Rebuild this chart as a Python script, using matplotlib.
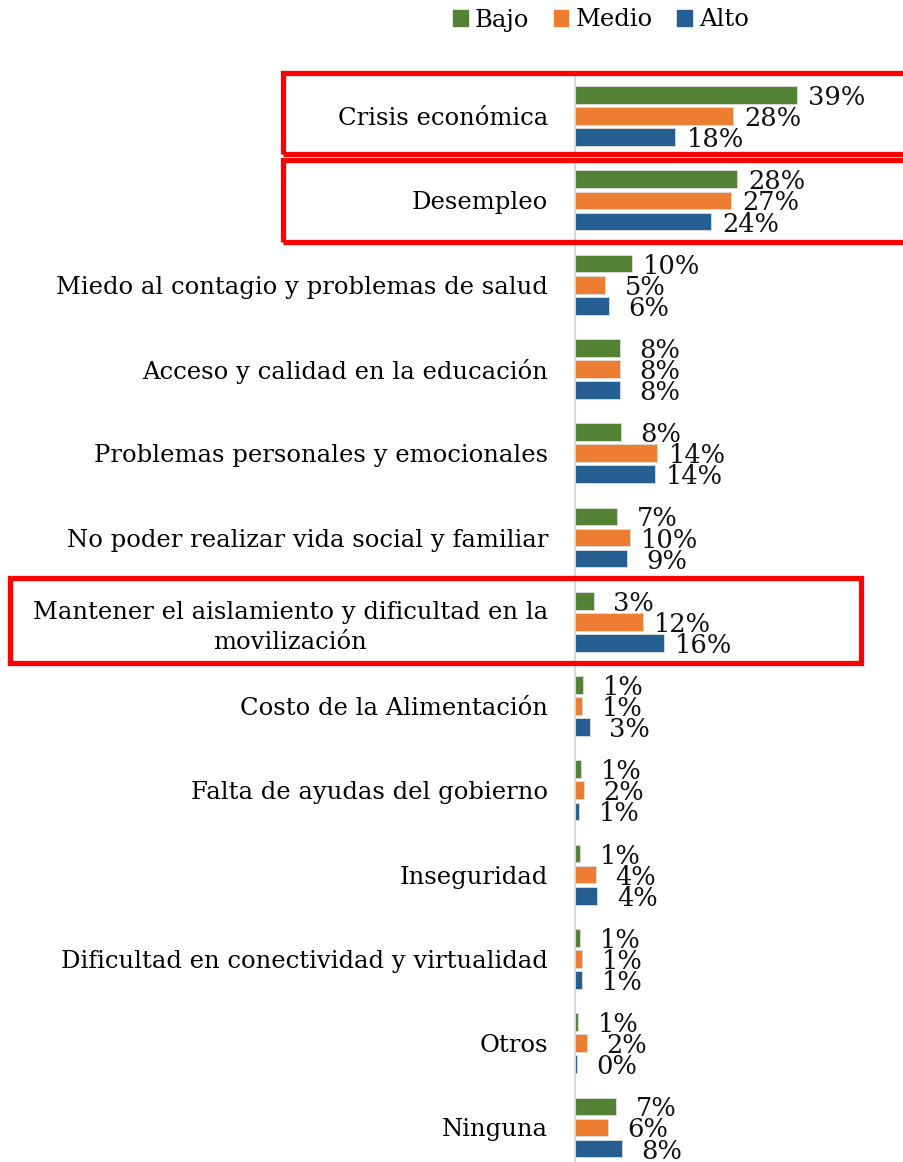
import matplotlib.pyplot as plt
from matplotlib.patches import Patch, Rectangle
import numpy as np

categorias = [
    'Crisis económica',
    'Desempleo',
    'Miedo al contagio y problemas de salud',
    'Acceso y calidad en la educación',
    'Problemas personales y emocionales',
    'No poder realizar vida social y familiar',
    'Mantener el aislamiento y dificultad en la\nmovilización',
    'Costo de la Alimentación',
    'Falta de ayudas del gobierno',
    'Inseguridad',
    'Dificultad en conectividad y virtualidad',
    'Otros',
    'Ninguna',
]
bajo = [38.9, 28.4, 10.0, 7.9, 8.0, 7.4, 3.3, 1.4, 1.1, 0.9, 0.9, 0.6, 7.2]
medio = [27.7, 27.4, 5.3, 7.9, 14.4, 9.6, 11.9, 1.3, 1.6, 3.7, 1.3, 2.1, 5.8]
alto = [17.6, 23.9, 6.0, 7.9, 14.0, 9.1, 15.6, 2.6, 0.7, 3.9, 1.3, 0.4, 8.2]
series = ['Bajo', 'Medio', 'Alto']
colores = ['#548235', '#ED7D31', '#255E91']

plt.rcParams['font.family'] = ['DejaVu Serif']

fig = plt.figure(figsize=(9.04, 11.62), dpi=100)
W, H = 904, 1162
x0, px_por_pct = 575, 5.7
ax = fig.add_axes([x0 / W, 0, (W - x0) / W, (H - 74) / H])

y = np.arange(len(categorias))
for i, (vals, col) in enumerate(zip([bajo, medio, alto], colores)):
    pos = y + (i - 1) * 0.25
    ax.barh(pos, vals, height=0.21, color=col, edgecolor='#dddddd', linewidth=0.6)
    # etiquetas de datos
    for p, v in zip(pos, vals):
        ax.text(v + 7, p + 0.03, f'{v:.0f}%', ha='center', va='center',
                fontsize=18.5, color='#111111')

ax.set_xlim(0, (W - x0) / px_por_pct)
ax.set_ylim(12.41, -0.5)
ax.set_yticks(y)
ax.set_yticklabels(categorias, fontsize=17.5, multialignment='center', linespacing=1.35)
ax.tick_params(axis='y', length=0, pad=19.5)
ax.set_xticks([])
for s in ['top', 'right', 'bottom']:
    ax.spines[s].set_visible(False)
ax.spines['left'].set_color('#d9d9d9')
ax.spines['left'].set_linewidth(1.5)

# recuadros rojos
for (rx0, ry0, rx1, ry1) in [(283, 73, 910, 154), (283, 160, 910, 242), (10, 578, 861, 663)]:
    fig.add_artist(Rectangle((rx0 / W, 1 - ry1 / H), (rx1 - rx0) / W, (ry1 - ry0) / H,
                             transform=fig.transFigure, fill=False,
                             edgecolor='#FF0000', linewidth=3.8, clip_on=False))

handles = [Patch(color=c, label=s) for s, c in zip(series, colores)]
fig.legend(handles=handles, loc='center', bbox_to_anchor=(601 / W, 1 - 20 / H),
           ncol=3, frameon=False, fontsize=17.5, handlelength=0.6, handleheight=0.6,
           handletextpad=0.3, columnspacing=1.0)

fig.savefig('out.png', dpi=100)
